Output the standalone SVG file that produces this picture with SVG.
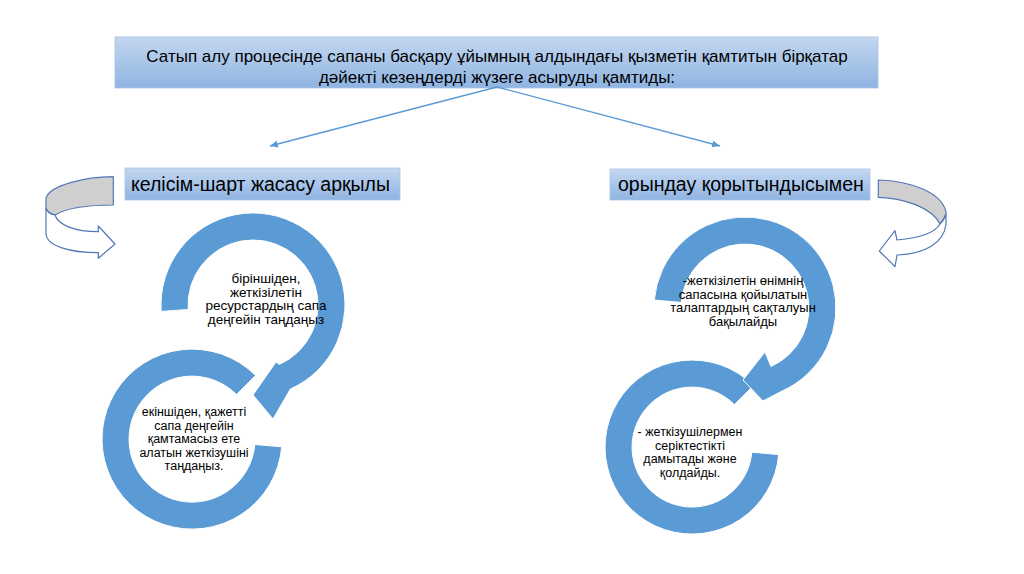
<svg xmlns="http://www.w3.org/2000/svg" width="1024" height="574" viewBox="0 0 1024 574">
  <defs>
    <linearGradient id="boxGrad" x1="0" y1="0" x2="0" y2="1">
      <stop offset="0" stop-color="#c3d7f0"/>
      <stop offset="1" stop-color="#8fb4e2"/>
    </linearGradient>
    <marker id="arrow" markerUnits="userSpaceOnUse" markerWidth="10" markerHeight="8" refX="8" refY="4" orient="auto">
      <path d="M0,0.5 L8,4 L0,7.5 z" fill="#5b9bd5"/>
    </marker>
  </defs>
  <style>
    text { font-family: "Liberation Sans", Arial, sans-serif; fill: #000000; }
    .box { fill: url(#boxGrad); stroke: #a9c3e6; stroke-width: 0.8; }
    .ring { fill: #5b9bd5; stroke: #ffffff; stroke-width: 1; }
    .conn { stroke: #5b9bd5; stroke-width: 1.3; fill: none; }
    .curl { stroke: #5277b8; stroke-width: 1.2; stroke-linejoin: round; }
    .back { fill: #cfcfcf; }
    .front { fill: #ffffff; }
    .t17 { font-size: 17px; text-anchor: middle; }
    .t20 { font-size: 19.5px; }
    .ctxt { text-anchor: middle; }
  </style>
  <rect width="1024" height="574" fill="#ffffff"/>

  <g id="title">
    <rect class="box" x="115" y="37" width="763" height="51"/>
    <text class="t17" x="497" y="62">Сатып алу процесінде сапаны басқару ұйымның алдындағы қызметін қамтитын бірқатар</text>
    <text class="t17" x="497" y="83">дәйекті кезеңдерді жүзеге асыруды қамтиды:</text>
  </g>

  <g id="connectors">
    <line class="conn" x1="497" y1="87" x2="270" y2="146" marker-end="url(#arrow)"/>
    <line class="conn" x1="497" y1="87" x2="720" y2="146" marker-end="url(#arrow)"/>
  </g>

  <g id="label-left">
    <rect class="box" x="125" y="168" width="275" height="32"/>
    <text class="t20" x="131" y="191">келісім-шарт жасасу арқылы</text>
  </g>

  <g id="label-right">
    <rect class="box" x="610" y="169" width="260" height="31"/>
    <text class="t20" x="618" y="191">орындау қорытындысымен</text>
  </g>

  <g id="curl-left">
    <path class="curl back" d="M113.3,176.7 C85,177 50,185 46,198 L46,208 C47,212 50,214 55,215 C65,209 85,205 113.3,205 Z"/>
    <path class="curl front" d="M55,215 C50,214 47,212 46,208 L46,234 C47,246 70,252.7 98.3,252.7 L98.3,258.3 L115,244 L98.3,226 L98.3,231.7 C75,231.7 58,225 55,215 Z"/>
  </g>

  <g id="curl-right">
    <path class="curl back" d="M878.3,180 C912,181 942,193 946,212 L946,214 C944,219 942,222 940,224 C932,208 905,198 878.3,197.3 Z"/>
    <path class="curl front" d="M940,224 C942,222 945,218 946,214 L946,224 C944,243 925,254 897,255 L895,266.7 L879.3,251 L895,230.7 L897,240 C918,238 935,233 940,224 Z"/>
  </g>

  <g id="cycle-left-2">
    <path class="ring" d="M255.6,375.4 A90,90 0 1 0 281.7,446.8 L254.8,444.5 A63,63 0 1 1 236.5,394.5 Z"/>
    <text class="ctxt" font-size="12.5" x="194" y="416">екіншіден, қажетті</text>
    <text class="ctxt" font-size="12.5" x="194" y="429.5">сапа деңгейін</text>
    <text class="ctxt" font-size="12.5" x="194" y="443">қамтамасыз ете</text>
    <text class="ctxt" font-size="12.5" x="194" y="456.5">алатын жеткізушіні</text>
    <text class="ctxt" font-size="12.5" x="194" y="470">таңдаңыз.</text>
  </g>

  <g id="cycle-left-1">
    <path class="ring" d="M161.2,311.4 A92,92 0 1 1 290.4,389 L273,419 L253,395 L276,362 L279.4,364.4 A65,65 0 1 0 188.2,309.5 Z"/>
    <text class="ctxt" font-size="13.5" x="266" y="283">біріншіден,</text>
    <text class="ctxt" font-size="13.5" x="266" y="296.5">жеткізілетін</text>
    <text class="ctxt" font-size="13.5" x="266" y="310">ресурстардың сапа</text>
    <text class="ctxt" font-size="13.5" x="266" y="323.5">деңгейін таңдаңыз</text>
  </g>

  <g id="cycle-right-2">
    <path class="ring" d="M753.5,385.5 A87,87 0 1 0 778.7,454.6 L751.8,452.2 A60,60 0 1 1 734.4,404.6 Z"/>
    <text class="ctxt" font-size="12.5" x="690" y="436">- жеткізушілермен</text>
    <text class="ctxt" font-size="12.5" x="690" y="449.5">серіктестікті</text>
    <text class="ctxt" font-size="12.5" x="690" y="463">дамытады және</text>
    <text class="ctxt" font-size="12.5" x="690" y="476.5">қолдайды.</text>
  </g>

  <g id="cycle-right-1">
    <path class="ring" d="M654.3,300.1 A91,91 0 1 1 782,391.1 L763,401 L743,380 L765,352 L771,366.5 A64,64 0 1 0 681.2,302.4 Z"/>
    <text class="ctxt" font-size="13" x="743" y="285">-жеткізілетін өнімнің</text>
    <text class="ctxt" font-size="13" x="743" y="298.5">сапасына қойылатын</text>
    <text class="ctxt" font-size="13" x="743" y="312">талаптардың сақталуын</text>
    <text class="ctxt" font-size="13" x="743" y="325.5">бақылайды</text>
  </g>
</svg>
